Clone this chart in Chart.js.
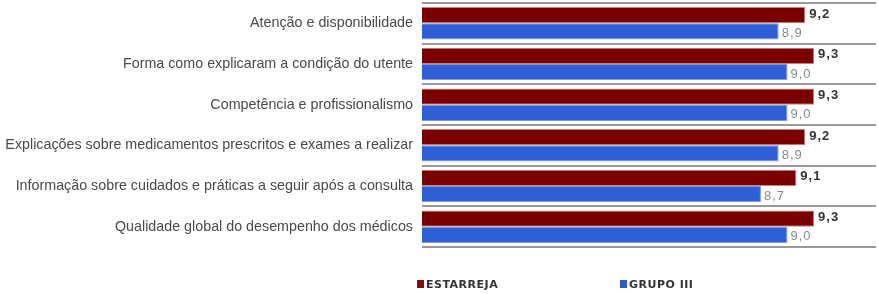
<!DOCTYPE html>
<html>
<head>
<meta charset="utf-8">
<script src="https://cdn.jsdelivr.net/npm/chart.js@4"></script>
<style>
  body { margin: 0; background: #fff; }
  #wrap { position: relative; width: 878px; height: 294px; }
  #legend { position: absolute; top: 278px; left: 0; width: 878px; height: 14px;
            font: bold 11px "DejaVu Sans", Arial, sans-serif; color: #333; letter-spacing: 0.5px; }
  .item { position: absolute; top: 0; white-space: nowrap; }
  .box { display: inline-block; width: 7px; height: 8px; margin-right: 2px; vertical-align: 0px; }
</style>
</head>
<body>
<div id="wrap">
  <canvas id="myChart" width="878" height="294"></canvas>
  <div id="legend"></div>
</div>
<script>
// data
var categories = [
  'Atenção e disponibilidade',
  'Forma como explicaram a condição do utente',
  'Competência e profissionalismo',
  'Explicações sobre medicamentos prescritos e exames a realizar',
  'Informação sobre cuidados e práticas a seguir após a consulta',
  'Qualidade global do desempenho dos médicos'
];
var estarreja = [9.2, 9.3, 9.3, 9.2, 9.1, 9.3];
var grupo3 = [8.9, 9.0, 9.0, 8.9, 8.7, 9.0];
var seriesNames = ['ESTARREJA', 'GRUPO III'];

function redFill(ctx) {
  var el = ctx.element;
  var c = ctx.chart.ctx;
  if (!el || !el.height) return '#7a0000';
  var g = c.createLinearGradient(0, el.y - el.height / 2, 0, el.y + el.height / 2);
  g.addColorStop(0, '#8a0a0a');
  g.addColorStop(1, '#6e0000');
  return g;
}
function blueFill(ctx) {
  var el = ctx.element;
  var c = ctx.chart.ctx;
  if (!el || !el.height) return '#2f5fd6';
  var g = c.createLinearGradient(0, el.y - el.height / 2, 0, el.y + el.height / 2);
  g.addColorStop(0, '#3c72ee');
  g.addColorStop(0.6, '#2d5ad2');
  g.addColorStop(1, '#1f3f9e');
  return g;
}

// value labels at bar ends
var valueLabels = {
  id: 'valueLabels',
  afterDatasetsDraw: function(chart) {
    var c = chart.ctx;
    c.save();
    c.textBaseline = 'middle';
    c.textAlign = 'left';
    c.letterSpacing = '1px';
    chart.data.datasets.forEach(function(ds, di) {
      var meta = chart.getDatasetMeta(di);
      meta.data.forEach(function(bar, i) {
        var txt = ds.data[i].toFixed(1).replace('.', ',');
        if (di == 0) {
          c.font = 'bold 13px "Liberation Sans", Arial, sans-serif';
          c.fillStyle = '#333';
          c.fillText(txt, bar.x + 4, bar.y - 1);
        } else {
          c.font = '13px "Liberation Sans", Arial, sans-serif';
          c.fillStyle = '#8a8a8a';
          c.fillText(txt, bar.x + 3, bar.y + 2);
        }
      });
    });
    c.restore();
  }
};

var ctx = document.getElementById('myChart').getContext('2d');
var chart = new Chart(ctx, {
  type: 'bar',
  data: {
    labels: categories,
    datasets: [{
      label: seriesNames[0],
      data: estarreja,
      backgroundColor: redFill,
      borderColor: '#c98080',
      borderWidth: 1,
      categoryPercentage: 0.8,
      barPercentage: 1.0
    }, {
      label: seriesNames[1],
      data: grupo3,
      backgroundColor: blueFill,
      borderColor: '#7f9ad8',
      borderWidth: 1,
      categoryPercentage: 0.8,
      barPercentage: 1.0
    }]
  },
  options: {
    indexAxis: 'y',
    responsive: false,
    animation: false,
    layout: { padding: { top: 3, right: 2, bottom: 47, left: 0 } },
    plugins: {
      legend: { display: false },
      tooltip: { enabled: false }
    },
    scales: {
      x: {
        display: false,
        min: 4.87,
        max: 10
      },
      y: {
        afterFit: function(scale) {
          scale.width = 422;
          scale.paddingTop = 0;
          scale.paddingBottom = 0;
        },
        border: { display: false },
        grid: {
          offset: true,
          drawTicks: false,
          color: '#9a9a9a',
          lineWidth: 2
        },
        ticks: {
          padding: 9,
          color: '#4a4a4a',
          font: { family: '"Liberation Sans", Arial, sans-serif', size: 14.3 }
        }
      }
    }
  },
  plugins: [valueLabels]
});

// legend
var legend = document.getElementById('legend');
var legendX = [417, 620];
var legendCol = ['#8a0a0a', '#2d5ad2'];
seriesNames.forEach(function(name, i) {
  var d = document.createElement('div');
  d.className = 'item';
  d.style.left = legendX[i] + 'px';
  d.innerHTML = '<span class="box" style="background:' + legendCol[i] + '"></span>' + name;
  legend.appendChild(d);
});
</script>
</body>
</html>
